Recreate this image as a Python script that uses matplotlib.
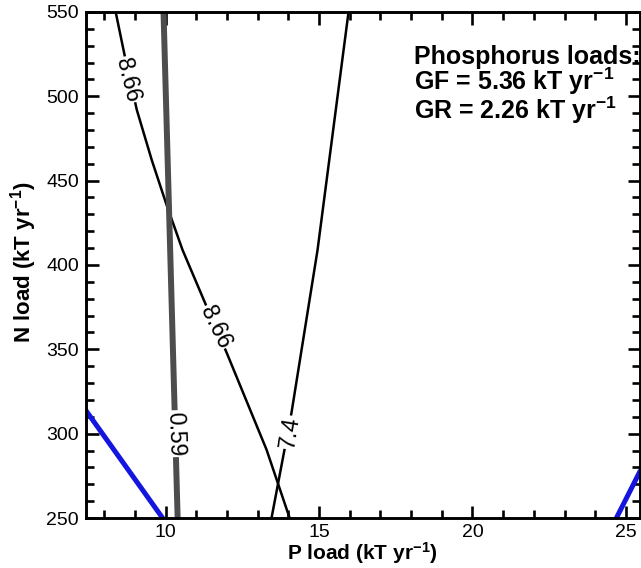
import matplotlib
matplotlib.use("Agg")
import matplotlib.pyplot as plt
from matplotlib.ticker import MultipleLocator

plt.rcParams['font.family'] = ['Liberation Sans', 'DejaVu Sans']
plt.rcParams['mathtext.fontset'] = 'custom'
plt.rcParams['mathtext.rm'] = 'Liberation Sans'
plt.rcParams['mathtext.bf'] = 'Liberation Sans:bold'
plt.rcParams['mathtext.default'] = 'bf'

# contour lines (P load, N load)
c866_x = [8.37, 8.66, 9.06, 9.55, 10.03, 10.55, 11.34, 11.99, 13.29, 14.04]
c866_y = [550, 524.5, 491.9, 462, 435.6, 408.9, 375.1, 347.9, 290.4, 250]

c74_x = [15.96, 14.95, 14.10, 13.45]
c74_y = [550, 408.9, 312.3, 250]

c059_x = [9.93, 10.16, 10.39]
c059_y = [550, 400, 250]

blue_left_x = [7.39, 9.9]
blue_left_y = [314, 250]
blue_right_x = [24.69, 25.44]
blue_right_y = [250, 277]

# contour labels: text, x, y, angle
labels = [
    ("8.66", 8.76, 509.7, -76),
    ("8.66", 11.63, 363.3, -64),
    ("0.59", 10.33, 300.0, -88),
    ("7.4", 14.04, 300.7, 81),
]

fig = plt.figure(figsize=(6.41, 5.68), dpi=100)
ax = fig.add_axes([0.134, 0.088, 0.864, 0.891])

ax.plot(c866_x, c866_y, color='black', lw=1.8)
ax.plot(c74_x, c74_y, color='black', lw=1.8)
ax.plot(c059_x, c059_y, color='#4d4d4d', lw=4.3)
ax.plot(blue_left_x, blue_left_y, color='#1515e0', lw=3.6)
ax.plot(blue_right_x, blue_right_y, color='#1515e0', lw=3.6)

for txt, x, y, ang in labels:
    ax.text(x, y, txt, rotation=ang, ha='center', va='center', fontsize=16.5,
            rotation_mode='anchor',
            bbox=dict(facecolor='white', edgecolor='none', pad=0.8))

ax.set_xlim(7.4, 25.45)
ax.set_ylim(250, 550)
ax.xaxis.set_major_locator(MultipleLocator(5))
ax.xaxis.set_minor_locator(MultipleLocator(1))
ax.yaxis.set_major_locator(MultipleLocator(50))
ax.yaxis.set_minor_locator(MultipleLocator(10))
ax.tick_params(which='both', direction='in', top=True, right=True, width=1.9,
               labelsize=14)
ax.tick_params(which='major', length=9, pad=5)
ax.tick_params(axis='x', which='major', pad=4)
ax.tick_params(which='minor', length=5.5)
for s in ax.spines.values():
    s.set_linewidth(2.1)

ax.set_xlabel(r"P load (kT yr$^{-1}$)", fontsize=15, fontweight='bold')
ax.set_ylabel(r"N load (kT yr$^{-1}$)", fontsize=16, fontweight='bold')
ax.xaxis.set_label_coords(0.5, -0.043)
ax.yaxis.set_label_coords(-0.085, 0.505)

ax.text(0.592, 0.935, "Phosphorus loads:\nGF = 5.36 kT yr$^{-1}$\nGR = 2.26 kT yr$^{-1}$",
        transform=ax.transAxes, ha='left', va='top', fontsize=18,
        fontweight='bold', linespacing=0.88)

fig.savefig("out.png", dpi=100)
